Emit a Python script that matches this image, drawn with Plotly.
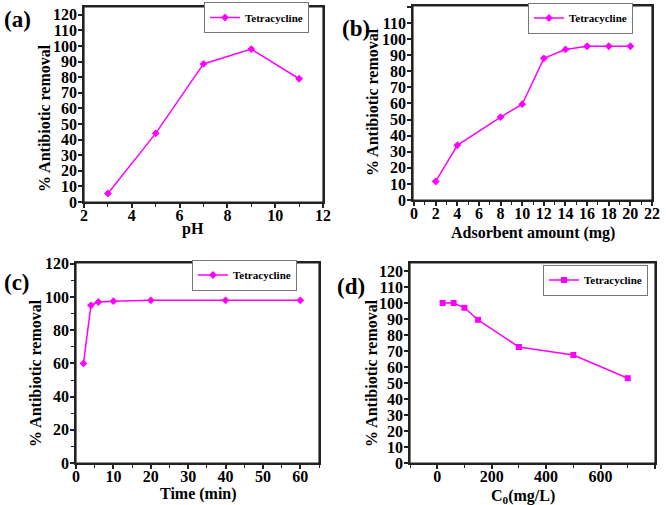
import plotly.graph_objects as go

W, H = 666, 505

# ---- data ----
ph_x = [3, 5, 7, 9, 11]
ph_y = [5.5, 44, 88.5, 98, 79]

dose_x = [2, 4, 8, 10, 12, 14, 16, 18, 20]
dose_y = [11.5, 34, 51.5, 59.5, 88, 93.5, 95.5, 95.5, 95.5]

time_x = [2, 4, 6, 10, 20, 40, 60]
time_y = [60, 95, 97, 97.5, 98, 98, 98]

conc_x = [20, 60, 100, 150, 300, 500, 700]
conc_y = [100, 100, 97, 89.5, 72.5, 67.5, 53]

series_name = "Tetracycline"
y_title = "% Antibiotic removal"
x_titles = ["pH", "Adsorbent amount (mg)", "Time (min)", "C<sub>0</sub>(mg/L)"]
panel_labels = ["(a)", "(b)", "(c)", "(d)"]

FONT = "Liberation Serif"
MAG = "#FF00FF"

def px_x(p):
    return p / W

def px_y(p):
    return 1 - p / H

fig = go.Figure()

# panel geometry in pixels: (left, right, top, bottom)
panels = [
    dict(x=ph_x, y=ph_y, sym="diamond", box=(84, 323, 7, 202), xr=[2, 12], yr=[0, 125],
         xd=2, xm=1, yd=10, ym=None, xa="x", ya="y", leg="legend", legpos=(204, 17.5),
         ytpos=(45, 118), xtpos=(193, 229)),
    dict(x=dose_x, y=dose_y, sym="diamond", box=(413, 652, 6, 200), xr=[-0.1, 22], yr=[0, 120.5],
         xd=2, xm=1, yd=10, ym=None, xa="x2", ya="y2", leg="legend2", legpos=(528, 18),
         ytpos=(373, 102), xtpos=(533, 233)),
    dict(x=time_x, y=time_y, sym="diamond", box=(76, 319, 263, 463), xr=[0, 65], yr=[0, 120.5],
         xd=10, xm=5, yd=20, ym=10, xa="x3", ya="y3", leg="legend3", legpos=(192, 275),
         ytpos=(35, 373), xtpos=(198, 494)),
    dict(x=conc_x, y=conc_y, sym="square", box=(410, 655, 263, 463), xr=[-100, 800], yr=[0, 125],
         xd=200, xm=100, yd=10, ym=None, xa="x4", ya="y4", leg="legend4", legpos=(543, 280),
         ytpos=(371, 373), xtpos=(523, 496)),
]

layout = {}
shapes = []
annotations = []
title_font = dict(family=FONT, size=16, color="#000", weight="bold")
tick_font = dict(family=FONT, size=16, color="#000", weight="bold")
for i, p in enumerate(panels):
    l, r, t, b = p["box"]
    fig.add_trace(go.Scatter(
        x=p["x"], y=p["y"], mode="lines+markers", name=series_name,
        line=dict(color=MAG, width=1.5),
        marker=dict(symbol=p["sym"], size=6, color=MAG),
        xaxis=p["xa"], yaxis=p["ya"], legend=p["leg"], showlegend=True,
    ))
    sfx = "" if i == 0 else str(i + 1)
    xaxis = dict(
        domain=[px_x(l), px_x(r)], range=p["xr"], anchor="y" + sfx, automargin=False,
        dtick=p["xd"], tick0=0, ticks="outside", ticklen=4, tickwidth=1.5, tickcolor="#222",
        showline=True, linecolor="#222", linewidth=1.8, mirror=True,
        showgrid=False, zeroline=False, ticklabelstandoff=-6, tickfont=tick_font,
    )
    if p["xm"]:
        xaxis["minor"] = dict(dtick=p["xm"], ticks="outside", ticklen=3, tickwidth=1.2, tickcolor="#222")
    yaxis = dict(
        domain=[px_y(b), px_y(t)], range=p["yr"], anchor="x" + sfx, automargin=False,
        dtick=p["yd"], tick0=0, ticks="outside", ticklen=4, tickwidth=1.5, tickcolor="#222",
        showline=True, linecolor="#222", linewidth=1.8, mirror=True,
        showgrid=False, zeroline=False, ticklabelstandoff=-2, tickfont=tick_font,
    )
    if p["ym"]:
        yaxis["minor"] = dict(dtick=p["ym"], ticks="outside", ticklen=3, tickwidth=1.2, tickcolor="#222")
    layout["xaxis" + sfx] = xaxis
    layout["yaxis" + sfx] = yaxis
    shapes.append(dict(type="rect", xref=p["xa"] + " domain", yref=p["ya"] + " domain",
                       x0=0, x1=1, y0=0, y1=1, line=dict(color="#222", width=1.2),
                       fillcolor="rgba(0,0,0,0)", layer="above"))
    lx, ly = p["legpos"]
    layout[p["leg"]] = dict(
        x=px_x(lx), y=px_y(ly), xanchor="left", yanchor="middle",
        bgcolor="white", bordercolor="#777", borderwidth=1,
        font=dict(family=FONT, size=11, color="#000", weight="bold"),
        itemwidth=30, tracegroupgap=0,
    )
    tx, ty = p["ytpos"]
    annotations.append(dict(text=y_title, x=px_x(tx), y=px_y(ty), xref="paper", yref="paper",
                            xanchor="center", yanchor="middle", textangle=-90, showarrow=False,
                            font=title_font))
    tx, ty = p["xtpos"]
    annotations.append(dict(text=x_titles[i], x=px_x(tx), y=px_y(ty), xref="paper", yref="paper",
                            xanchor="center", yanchor="middle", showarrow=False,
                            font=title_font))

label_pos = [(17, 19), (356, 28), (17, 282), (351, 286)]
for lab, (ax_, ay_) in zip(panel_labels, label_pos):
    annotations.append(dict(
        text=lab, x=px_x(ax_), y=px_y(ay_), xref="paper", yref="paper",
        xanchor="center", yanchor="middle", showarrow=False,
        font=dict(family=FONT, size=23, color="#000", weight="bold"),
    ))

fig.update_layout(
    width=W, height=H, margin=dict(l=0, r=0, t=0, b=0, autoexpand=False),
    paper_bgcolor="white", plot_bgcolor="white",
    annotations=annotations, shapes=shapes, **layout,
)

fig.write_html("out.html", config={"displayModeBar": False},
               post_script="document.body.style.margin='0';")
